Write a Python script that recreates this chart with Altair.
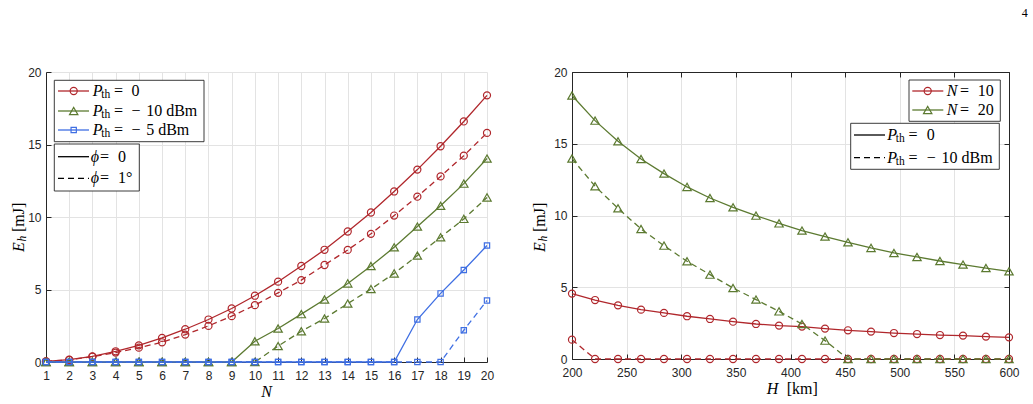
import altair as alt
import pandas as pd

# ---------------- data ----------------
N_values = [1, 2, 3, 4, 5, 6, 7, 8, 9, 10, 11, 12, 13, 14, 15, 16, 17, 18, 19, 20]
E_pth0_phi0 = [0.05, 0.16, 0.39, 0.74, 1.15, 1.66, 2.26, 2.93, 3.69, 4.57,
               5.54, 6.62, 7.74, 9.00, 10.31, 11.76, 13.27, 14.88, 16.59, 18.39]
E_pth0_phi1 = [0.04, 0.15, 0.37, 0.65, 0.99, 1.36, 1.89, 2.49, 3.16, 3.92,
               4.77, 5.65, 6.69, 7.73, 8.84, 10.10, 11.40, 12.80, 14.23, 15.80]
E_pthm10_phi0 = [0, 0, 0, 0, 0, 0, 0, 0, 0, 1.43,
                 2.31, 3.30, 4.31, 5.42, 6.62, 7.91, 9.34, 10.77, 12.30, 14.03]
E_pthm10_phi1 = [0, 0, 0, 0, 0, 0, 0, 0, 0, 0,
                 1.10, 2.12, 3.00, 4.03, 5.03, 6.11, 7.34, 8.60, 9.87, 11.35]
E_pthm5_phi0 = [0, 0, 0, 0, 0, 0, 0, 0, 0, 0,
                0, 0, 0, 0, 0, 0, 2.93, 4.73, 6.34, 8.03]
E_pthm5_phi1 = [0, 0, 0, 0, 0, 0, 0, 0, 0, 0,
                0, 0, 0, 0, 0, 0, 0, 0, 2.19, 4.24]

H_values = [200, 221.1, 242.1, 263.2, 284.2, 305.3, 326.3, 347.4, 368.4, 389.5,
            410.5, 431.6, 452.6, 473.7, 494.7, 515.8, 536.8, 557.9, 578.9, 600]
E_N10_pth0 = [4.56, 4.11, 3.74, 3.44, 3.21, 2.98, 2.79, 2.60, 2.44, 2.33,
              2.26, 2.12, 2.00, 1.91, 1.81, 1.74, 1.67, 1.63, 1.56, 1.51]
E_N10_pthm10 = [1.35, 0, 0, 0, 0, 0, 0, 0, 0, 0,
                0, 0, 0, 0, 0, 0, 0, 0, 0, 0]
E_N20_pth0 = [18.36, 16.61, 15.17, 13.94, 12.92, 11.99, 11.22, 10.57, 9.99, 9.45,
              8.95, 8.53, 8.13, 7.74, 7.39, 7.11, 6.83, 6.58, 6.34, 6.11]
E_N20_pthm10 = [13.97, 12.04, 10.50, 9.06, 7.90, 6.81, 5.88, 4.95, 4.14, 3.32,
                2.44, 1.28, 0, 0, 0, 0, 0, 0, 0, 0]

left_xticks = [1, 2, 3, 4, 5, 6, 7, 8, 9, 10, 11, 12, 13, 14, 15, 16, 17, 18, 19, 20]
right_xticks = [200, 250, 300, 350, 400, 450, 500, 550, 600]
yticks = [0, 5, 10, 15, 20]

# ---------------- style ----------------
RED = "#B0272C"
GREEN = "#5C7A31"
BLUE = "#3F6FE3"
AX = "#262626"
GRID = "#E3E3E3"
SANS = "Liberation Sans, Arial, sans-serif"
SERIF = "'Liberation Serif', 'Times New Roman', serif"
W1, H1 = 441, 290
W2, H2 = 437, 287
LW = 1.3
DASH = [6, 4]
SIZES = {"circle": 50, "triangle-up": 70, "square": 28}

one = pd.DataFrame({"a": [0]})


def axes_layers(xdom, ydom, xt, yt, W, H, box):
    xsc = alt.Scale(domain=xdom, nice=False, zero=False)
    ysc = alt.Scale(domain=ydom, nice=False, zero=False)
    d = pd.DataFrame({"x": [xdom[0]], "y": [ydom[0]]})
    com = dict(labelFont=SANS, labelFontSize=12, labelColor=AX, domainColor=AX,
               domainWidth=1, tickColor=AX, tickWidth=1, title=None,
               labelFlush=False, labelOverlap=False)
    A = alt.Chart(d).mark_point(opacity=0).encode(
        x=alt.X("x:Q", scale=xsc, axis=alt.Axis(orient="bottom", values=xt, grid=True,
                gridColor=GRID, gridWidth=1, ticks=False, labelPadding=8, **com)),
        y=alt.Y("y:Q", scale=ysc, axis=alt.Axis(orient="left", values=yt, grid=True,
                gridColor=GRID, gridWidth=1, ticks=False, labelPadding=5, **com)))
    tk = dict(tickColor=AX, tickWidth=1, tickSize=5, labels=False, grid=False, title=None)
    B = alt.Chart(d).mark_point(opacity=0).encode(
        x=alt.X("x:Q", scale=xsc, axis=alt.Axis(orient="top", offset=-H, values=xt,
                domain=False, **tk)),
        y=alt.Y("y:Q", scale=ysc, axis=alt.Axis(orient="right", offset=-W, values=yt,
                domain=False, **tk)))
    out = [A, B]
    if box:
        C = alt.Chart(d).mark_point(opacity=0).encode(
            x=alt.X("x:Q", scale=xsc, axis=alt.Axis(orient="bottom", offset=-H, values=xt,
                    domain=True, domainColor=AX, domainWidth=1, **tk)),
            y=alt.Y("y:Q", scale=ysc, axis=alt.Axis(orient="left", offset=-W, values=yt,
                    domain=True, domainColor=AX, domainWidth=1, **tk)))
        out.append(C)
    return out, xsc, ysc


def series(xv, yv, color, shape, dash, xsc, ysc):
    df = pd.DataFrame({"x": xv, "y": yv})
    enc = dict(x=alt.X("x:Q", scale=xsc, axis=None), y=alt.Y("y:Q", scale=ysc, axis=None))
    kw = dict(color=color, strokeWidth=LW)
    if dash:
        kw["strokeDash"] = dash
    ln = alt.Chart(df).mark_line(**kw).encode(**enc)
    pt = alt.Chart(df).mark_point(shape=shape, size=SIZES[shape], filled=False, color=color,
                                  strokeWidth=1.2, opacity=1).encode(**enc)
    return [ln, pt]


def box(x1, y1, x2, y2):
    return alt.Chart(one).mark_rect(fill="white", stroke=AX, strokeWidth=0.9).encode(
        x=alt.value(x1), x2=alt.value(x2), y=alt.value(y1), y2=alt.value(y2))


def seg(x1, x2, y, color, dash):
    kw = dict(color=color, strokeWidth=LW)
    if dash:
        kw["strokeDash"] = dash
    return alt.Chart(one).mark_rule(**kw).encode(x=alt.value(x1), x2=alt.value(x2), y=alt.value(y))


def marker(x, y, color, shape):
    return alt.Chart(one).mark_point(shape=shape, size=SIZES[shape], filled=False, color=color,
                                     strokeWidth=1.2, opacity=1).encode(x=alt.value(x), y=alt.value(y))


def txt(x, y, s, size=16, style="normal", angle=0, align="left", color="black", font=SERIF):
    return alt.Chart(one).mark_text(text=s, font=font, fontSize=size, fontStyle=style,
                                    align=align, baseline="middle", angle=angle,
                                    color=color).encode(x=alt.value(x), y=alt.value(y))


def pth_label(x0, y, value_parts):
    out = [txt(x0, y, "P", style="italic"),
           txt(x0 + 8.5, y + 4, "th", size=11.5),
           txt(x0 + 21.3, y, "=")]
    for dx, s in value_parts:
        out.append(txt(x0 + dx, y, s))
    return out


# ---------------- left panel ----------------
L, xs1, ys1 = axes_layers([1, 20], [0, 20], left_xticks, yticks, W1, H1, False)
L += series(N_values, E_pth0_phi0, RED, "circle", None, xs1, ys1)
L += series(N_values, E_pth0_phi1, RED, "circle", DASH, xs1, ys1)
L += series(N_values, E_pthm10_phi0, GREEN, "triangle-up", None, xs1, ys1)
L += series(N_values, E_pthm10_phi1, GREEN, "triangle-up", DASH, xs1, ys1)
L += series(N_values, E_pthm5_phi0, BLUE, "square", None, xs1, ys1)
L += series(N_values, E_pthm5_phi1, BLUE, "square", DASH, xs1, ys1)

# legends
L.append(box(8.3, 8.3, 158, 69.7))
for yy, col, shp, vals in [(19, RED, "circle", [(38.7, "0")]),
                           (39, GREEN, "triangle-up", [(38.7, "−"), (53.5, "10 dBm")]),
                           (58, BLUE, "square", [(38.7, "−"), (53.5, "5 dBm")])]:
    L.append(seg(12, 43, yy, col, None))
    L.append(marker(27.7, yy, col, shp))
    L += pth_label(46.7, yy, vals)
L.append(box(8.3, 72, 93.3, 119))
for yy, dash, val in [(84.7, None, "0"), (106.3, DASH, "1°")]:
    L.append(seg(12, 43, yy, "black", dash))
    L.append(txt(44.7, yy, "ϕ", style="italic"))
    L.append(txt(54, yy, "="))
    L.append(txt(72, yy, val))

# axis titles
L.append(txt(W1 / 2, H1 + 30, "N", style="italic", align="center"))
L.append(txt(-27, 180, "E", style="italic", angle=270))
L.append(txt(-23, 169.5, "h", size=11.5, style="italic", angle=270))
L.append(txt(-27, 160, "[mJ]", angle=270))
L.append(txt(0, -59.3, "4", size=12, color="white"))

left = alt.layer(*L).resolve_axis(x="independent", y="independent").properties(width=W1, height=H1)

# ---------------- right panel ----------------
R, xs2, ys2 = axes_layers([200, 600], [0, 20], right_xticks, yticks, W2, H2, True)
R += series(H_values, E_N10_pth0, RED, "circle", None, xs2, ys2)
R += series(H_values, E_N20_pth0, GREEN, "triangle-up", None, xs2, ys2)
R += series(H_values, E_N10_pthm10, RED, "circle", DASH, xs2, ys2)
R += series(H_values, E_N20_pthm10, GREEN, "triangle-up", DASH, xs2, ys2)

R.append(box(337, 8, 428.3, 49.3))
for yy, col, shp, val in [(19, RED, "circle", "10"), (38, GREEN, "triangle-up", "20")]:
    R.append(seg(340.3, 371.3, yy, col, None))
    R.append(marker(355.7, yy, col, shp))
    R.append(txt(374.7, yy, "N", style="italic"))
    R.append(txt(388, yy, "="))
    R.append(txt(405.7, yy, val))
R.append(box(278.7, 51.3, 427.3, 97.3))
for yy, dash, vals in [(63, None, [(39.4, "0")]),
                       (85.7, DASH, [(39.4, "−"), (54.2, "10 dBm")])]:
    R.append(seg(282, 313, yy, "black", dash))
    R += pth_label(315.3, yy, vals)

R.append(txt(194.7, H2 + 30, "H", style="italic"))
R.append(txt(214.7, H2 + 30, "[km]"))
R.append(txt(-32, 180, "E", style="italic", angle=270))
R.append(txt(-28, 169.5, "h", size=11.5, style="italic", angle=270))
R.append(txt(-32, 160, "[mJ]", angle=270))
R.append(txt(449.7, -59.3, "4", size=12))

right = alt.layer(*R).resolve_axis(x="independent", y="independent").properties(width=W2, height=H2)

chart = alt.hconcat(left, right, spacing=38).properties(
    padding={"left": 11, "top": 6, "right": 5, "bottom": 5},
    background="white",
).configure_view(stroke=None)

chart.save("out.html", embed_options={"renderer": "svg", "actions": False})
